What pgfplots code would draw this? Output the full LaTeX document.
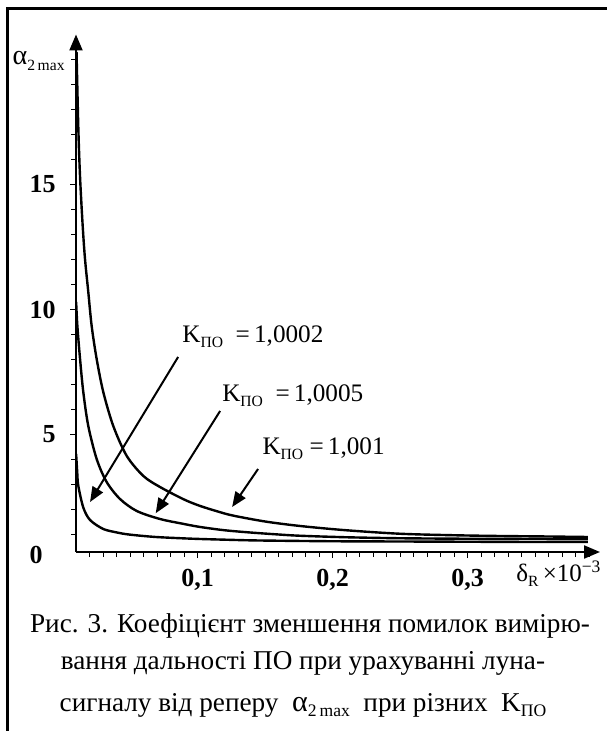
\documentclass[border=0pt]{standalone}
\usepackage{fontspec}
\setmainfont{Liberation Serif}
\usepackage{pgfplots}
\pgfplotsset{compat=1.18}
\usetikzlibrary{arrows.meta}
\newcommand\sub[1]{\raisebox{-0.45ex}{\fontsize{7.8}{8}\selectfont #1}}
\newcommand\subs[1]{\raisebox{-0.45ex}{\fontsize{8.8}{9}\selectfont #1}}
\begin{document}
\begin{tikzpicture}[x=1pt,y=1pt]
\useasboundingbox (-38,-89.5) rectangle (265,276);
\draw[line width=1.5pt] (-34,-100) -- (-34,271.5) -- (280,271.5);
\begin{axis}[
  at={(0,0)}, anchor=south west, scale only axis,
  width=262pt, height=258.75pt,
  xmin=0.01, xmax=0.398, ymin=0.3, ymax=21,
  axis lines=left,
  axis line style={line width=1pt, -{Triangle[length=8pt,width=6.5pt]}},
  tick align=outside,
  major tick length=3pt, minor tick length=2.5pt,
  every tick/.style={black, line width=0.5pt},
  xtick={0.1,0.2,0.3},
  xticklabels={{0,1},{0,2},{0,3}},
  minor xtick={0.02,0.03,0.04,0.05,0.06,0.07,0.08,0.09,0.11,0.12,0.13,0.14,0.15,0.16,0.17,0.18,0.19,0.21,0.22,0.23,0.24,0.25,0.26,0.27,0.28,0.29,0.31,0.32,0.33,0.34,0.35,0.36,0.37,0.38,0.39},
  ytick={5,10,15}, yticklabels={5,10,15},
  minor ytick={1,2,3,4,6,7,8,9,11,12,13,14,16,17,18,19,20},
  ticklabel style={font=\fontsize{13}{15}\selectfont\bfseries},
  xticklabel style={anchor=north, inner sep=0pt, yshift=-5.5pt},
  yticklabel style={anchor=east, inner sep=0pt, xshift=-7pt},
  clip=true,
]
\addplot[black, line width=1.2pt, smooth] coordinates {
(0.0104,20.3)(0.0117,17.3)(0.0130,15.3)(0.0150,13.3)(0.0167,12.0)(0.0191,10.7)(0.0216,9.34)(0.0253,8.02)(0.0302,6.7)(0.0376,5.34)(0.0476,4.14)(0.0599,3.34)(0.0722,2.9)(0.090,2.4)(0.102,2.14)(0.115,1.92)(0.126,1.76)(0.15,1.52)(0.176,1.34)(0.21,1.17)(0.25,1.03)(0.29,0.97)(0.324,0.94)(0.36,0.92)(0.389,0.9)};
\addplot[black, line width=1.2pt, smooth] coordinates {
(0.0101,10.3)(0.011,9.35)(0.013,8.02)(0.0154,6.7)(0.0191,5.34)(0.0253,4.02)(0.0327,3.1)(0.0426,2.42)(0.055,1.94)(0.0722,1.62)(0.09,1.42)(0.102,1.3)(0.12,1.17)(0.139,1.08)(0.16,1.0)(0.176,0.95)(0.21,0.89)(0.25,0.85)(0.3,0.83)(0.35,0.82)(0.389,0.81)};
\addplot[black, line width=1.2pt, smooth] coordinates {
(0.0101,4.22)(0.0109,3.5)(0.0117,2.95)(0.0154,2.08)(0.0204,1.58)(0.0302,1.22)(0.0404,1.08)(0.0476,1.01)(0.06,0.94)(0.0722,0.89)(0.0967,0.83)(0.122,0.79)(0.146,0.76)(0.2,0.73)(0.25,0.72)(0.3,0.71)(0.35,0.7)(0.389,0.7)};
% annotations
\draw[line width=1pt, -{Triangle[length=7.5pt,width=6pt]}] (axis cs:0.0856,8.1) -- (axis cs:0.0204,2.3);
\draw[line width=1pt, -{Triangle[length=7.5pt,width=6pt]}] (axis cs:0.1167,5.94) -- (axis cs:0.069,1.85);
\draw[line width=1pt, -{Triangle[length=7.5pt,width=6pt]}] (axis cs:0.1448,3.62) -- (axis cs:0.1256,2.1);
\node[anchor=west, inner sep=0pt, font=\fontsize{12.6}{14}\selectfont] at (axis cs:0.0885,8.9) {K\sub{ПО}\ \ =\,1,0002};
\node[anchor=west, inner sep=0pt, font=\fontsize{12.6}{14}\selectfont] at (axis cs:0.118,6.54) {K\sub{ПО}\ \ =\,1,0005};
\node[anchor=west, inner sep=0pt, font=\fontsize{12.6}{14}\selectfont] at (axis cs:0.1478,4.42) {K\sub{ПО}\ =\,1,001};
\end{axis}
\node[font=\fontsize{13}{15}\selectfont\bfseries] at (-20,-1.5) {0};
\node[anchor=east, inner sep=0pt, font=\fontsize{14}{16}\selectfont] at (-5.5,245.5) {α\sub{2\,max}};
\node[anchor=west, inner sep=0pt, font=\fontsize{12.5}{14}\selectfont] at (220,-11) {δ\sub{R}\,×10\textsuperscript{−3}};
\node[font=\fontsize{13.6}{16}\selectfont] at (117,-37) {Рис. 3. Коефіцієнт зменшення помилок вимірю-};
\node[font=\fontsize{13.6}{16}\selectfont] at (113.5,-55.5) {вання дальності ПО при урахуванні луна-};
\node[font=\fontsize{13.6}{16}\selectfont] at (113.5,-76.5) {сигналу від реперу \ {\fontsize{15}{16}\selectfont α}\subs{2\,max} \ при різних \ K\subs{ПО}};
\end{tikzpicture}
\end{document}
